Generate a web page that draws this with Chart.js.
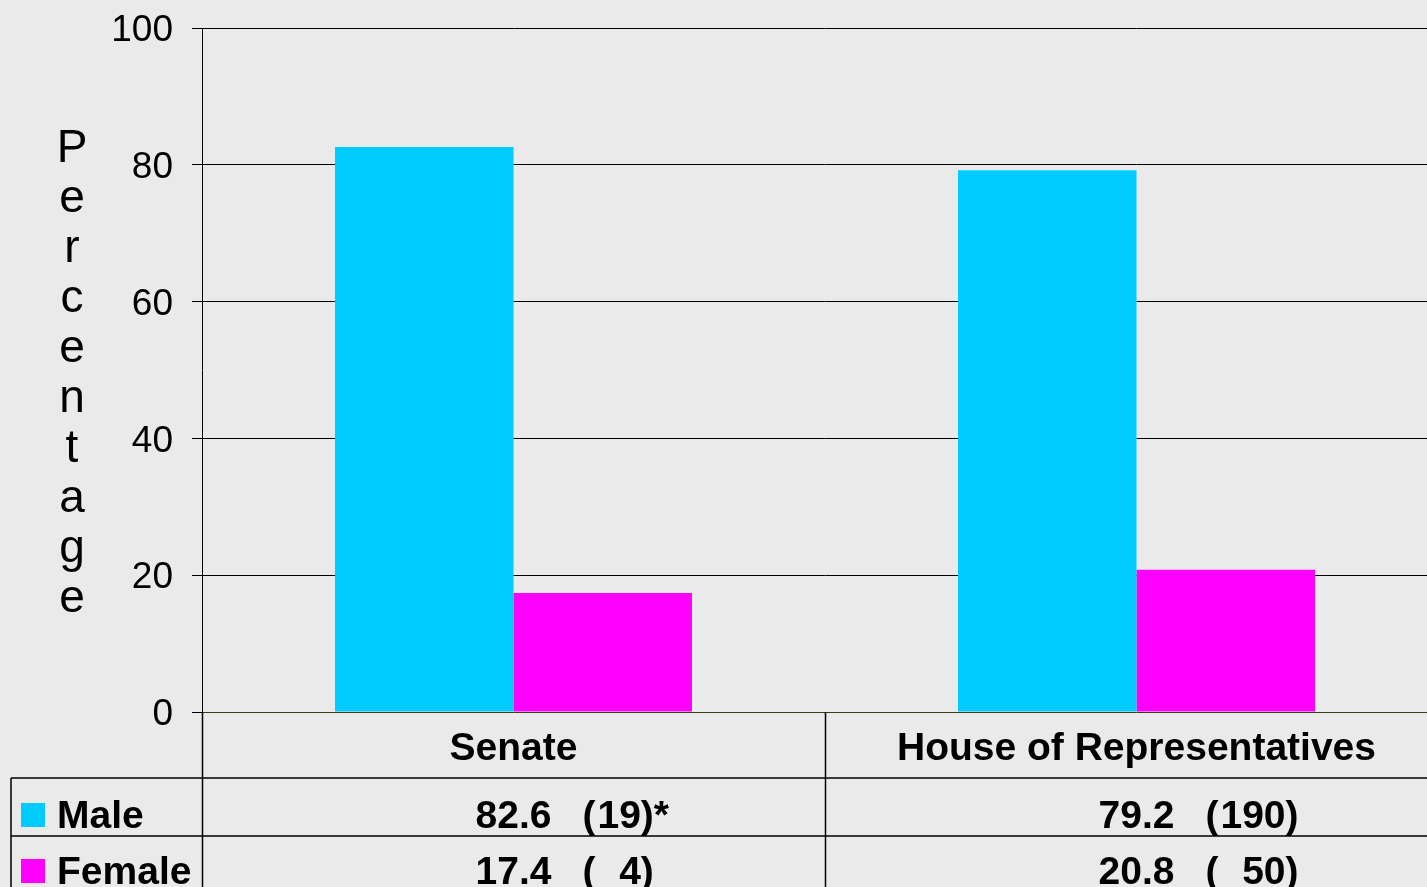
<!DOCTYPE html>
<html><head><meta charset="utf-8">
<script src="https://cdn.jsdelivr.net/npm/chart.js@4/dist/chart.umd.min.js"></script>
<style>
html,body{margin:0;padding:0;background:#eaeaea;overflow:hidden;width:1427px;height:887px;}
#wrap{position:absolute;left:0;top:0;width:1460px;height:887px;}
canvas{display:block;}
</style></head><body>
<div id="wrap"><canvas id="c" width="1460" height="887"></canvas></div>
<script>
const categories = ['Senate', 'House of Representatives'];
const seriesNames = ['Male', 'Female'];
const maleValues = [82.6, 79.2];
const femaleValues = [17.4, 20.8];
const maleCounts = ['19', '190'];
const femaleCounts = ['4', '50'];
const maleNotes = ['*', ''];
const femaleNotes = ['', ''];
const yTicks = [0, 20, 40, 60, 80, 100];
const axisTitle = 'Percentage';
const seriesColors = ['#00ccff', '#ff00ff'];

const FONT = '"Liberation Sans", Arial, Helvetica, sans-serif';

const tablePlugin = {
  id: 'tablePlugin',
  afterDraw(chart) {
    const ctx = chart.ctx;
    const area = chart.chartArea;
    const xs = chart.scales.x;
    const W = chart.width, H = chart.height;
    const catW = (area.right - area.left) / categories.length;
    ctx.save();
    // vertical axis title, stacked letters
    ctx.fillStyle = '#000';
    ctx.font = '46px ' + FONT;
    ctx.textAlign = 'center';
    ctx.textBaseline = 'alphabetic';
    for (let i = 0; i < axisTitle.length; i++) {
      ctx.fillText(axisTitle[i], 72, 162 + i * 50);
    }
    // table lines
    ctx.strokeStyle = '#000';
    ctx.lineWidth = 1.5;
    const r1 = area.bottom + 66, r2 = area.bottom + 124;
    ctx.beginPath();
    ctx.moveTo(11, r1); ctx.lineTo(W, r1);
    ctx.moveTo(11, r2); ctx.lineTo(W, r2);
    ctx.moveTo(11, r1); ctx.lineTo(11, H);
    for (let i = 0; i <= categories.length; i++) {
      const x = Math.round(area.left + i * catW) + 0.5;
      ctx.moveTo(x, area.bottom); ctx.lineTo(x, H);
    }
    ctx.stroke();
    // category labels
    ctx.font = 'bold 39px ' + FONT;
    ctx.textAlign = 'center';
    categories.forEach((c, i) => {
      ctx.fillText(c, xs.getPixelForValue(i), area.bottom + 48);
    });
    // legend rows
    const rows = [
      {name: seriesNames[0], vals: maleValues, counts: maleCounts, notes: maleNotes, color: seriesColors[0], base: area.bottom + 116},
      {name: seriesNames[1], vals: femaleValues, counts: femaleCounts, notes: femaleNotes, color: seriesColors[1], base: area.bottom + 172}
    ];
    const digitW = ctx.measureText('0').width;
    const parW = ctx.measureText('(').width;
    rows.forEach(r => {
      ctx.fillStyle = r.color;
      ctx.fillRect(21, r.base - 25, 24, 24);
      ctx.fillStyle = '#000';
      ctx.textAlign = 'left';
      ctx.fillText(r.name, 57, r.base);
      r.vals.forEach((v, i) => {
        const cx = xs.getPixelForValue(i);
        ctx.textAlign = 'left';
        ctx.fillText(v.toFixed(1), cx - 38, r.base);
        const px = cx + 69;
        ctx.fillText('(', px, r.base);
        const len = Math.max(maleCounts[i].length, femaleCounts[i].length);
        const endDigits = px + parW + 2 + len * digitW;
        ctx.textAlign = 'right';
        ctx.fillText(r.counts[i], endDigits, r.base);
        ctx.textAlign = 'left';
        ctx.fillText(')' + r.notes[i], endDigits, r.base);
      });
    });
    ctx.restore();
  }
};

new Chart(document.getElementById('c'), {
  type: 'bar',
  data: {
    labels: categories,
    datasets: [
      {label: seriesNames[0], data: maleValues, backgroundColor: seriesColors[0], borderWidth: 0},
      {label: seriesNames[1], data: femaleValues, backgroundColor: seriesColors[1], borderWidth: 0}
    ]
  },
  options: {
    responsive: false,
    animation: false,
    devicePixelRatio: 1,
    layout: {padding: {left: 0, top: 28, right: 12, bottom: 175}},
    plugins: {legend: {display: false}, tooltip: {enabled: false}, title: {display: false}},
    datasets: {bar: {categoryPercentage: 0.573, barPercentage: 1.0}},
    scales: {
      x: {display: false, offset: true},
      y: {
        min: 0, max: 100,
        afterFit(scale) { scale.width = 202; scale.paddingTop = 0; scale.paddingBottom = 0; },
        afterBuildTicks(scale) { scale.ticks = yTicks.map(v => ({value: v})); },
        ticks: {color: '#000', font: {family: FONT, size: 37}, padding: 19, labelOffset: 3},
        grid: {
          color: ctx => (ctx.tick && ctx.tick.value === 0) ? '#3a3a14' : '#000',
          lineWidth: 1, tickLength: 10, tickColor: '#000', drawTicks: true
        },
        border: {display: true, color: '#000', width: 1}
      }
    }
  },
  plugins: [tablePlugin]
});
</script>
</body></html>
